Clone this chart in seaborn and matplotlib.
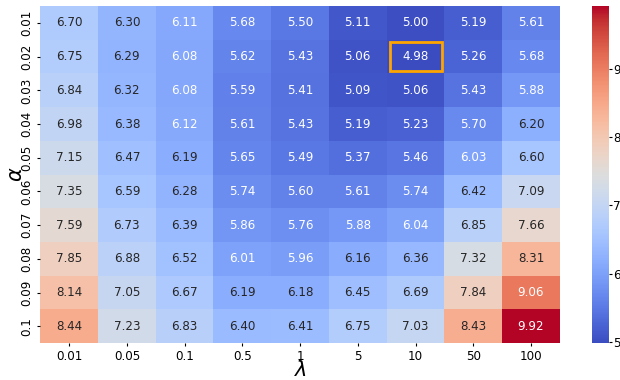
import numpy as np
import pandas as pd
import matplotlib
matplotlib.use("Agg")
import matplotlib.pyplot as plt
import matplotlib.patches as patches
import seaborn as sns

lambdas = ["0.01", "0.05", "0.1", "0.5", "1", "5", "10", "50", "100"]
alphas = ["0.01", "0.02", "0.03", "0.04", "0.05", "0.06", "0.07", "0.08", "0.09", "0.1"]

row_001 = [6.70, 6.30, 6.11, 5.68, 5.50, 5.11, 5.00, 5.19, 5.61]
row_002 = [6.75, 6.29, 6.08, 5.62, 5.43, 5.06, 4.98, 5.26, 5.68]
row_003 = [6.84, 6.32, 6.08, 5.59, 5.41, 5.09, 5.06, 5.43, 5.88]
row_004 = [6.98, 6.38, 6.12, 5.61, 5.43, 5.19, 5.23, 5.70, 6.20]
row_005 = [7.15, 6.47, 6.19, 5.65, 5.49, 5.37, 5.46, 6.03, 6.60]
row_006 = [7.35, 6.59, 6.28, 5.74, 5.60, 5.61, 5.74, 6.42, 7.09]
row_007 = [7.59, 6.73, 6.39, 5.86, 5.76, 5.88, 6.04, 6.85, 7.66]
row_008 = [7.85, 6.88, 6.52, 6.01, 5.96, 6.16, 6.36, 7.32, 8.31]
row_009 = [8.14, 7.05, 6.67, 6.19, 6.18, 6.45, 6.69, 7.84, 9.06]
row_010 = [8.44, 7.23, 6.83, 6.40, 6.41, 6.75, 7.03, 8.43, 9.92]

best_row, best_col = 1, 6

data = pd.DataFrame([row_001, row_002, row_003, row_004, row_005,
                     row_006, row_007, row_008, row_009, row_010],
                    index=alphas, columns=lambdas)

fig = plt.figure(figsize=(6.2, 3.8), dpi=100)
ax = fig.add_axes([0.065, 0.097, 0.838, 0.887])
cax = fig.add_axes([0.955, 0.097, 0.027, 0.887])

sns.heatmap(data, ax=ax, cbar_ax=cax, cmap="coolwarm", annot=True, fmt=".2f",
            annot_kws={"fontsize": 8.6})

ax.add_patch(patches.Rectangle((best_col + 0.05, best_row + 0.08), 0.9, 0.84,
                               fill=False, edgecolor="orange", linewidth=2))

ax.set_xlabel(r"$\lambda$", fontsize=15, labelpad=-2)
ax.set_ylabel(r"$\alpha$", fontsize=15, labelpad=-4)
ax.tick_params(axis="both", labelsize=8.6, length=2.5, pad=2.5)
ax.set_yticklabels(alphas, rotation=90, va="center")
ax.set_xticklabels(lambdas, rotation=0)
cax.set_yticks([5, 6, 7, 8, 9])
cax.tick_params(labelsize=8.6, length=2, pad=1)

fig.savefig("out.png", dpi=100)
